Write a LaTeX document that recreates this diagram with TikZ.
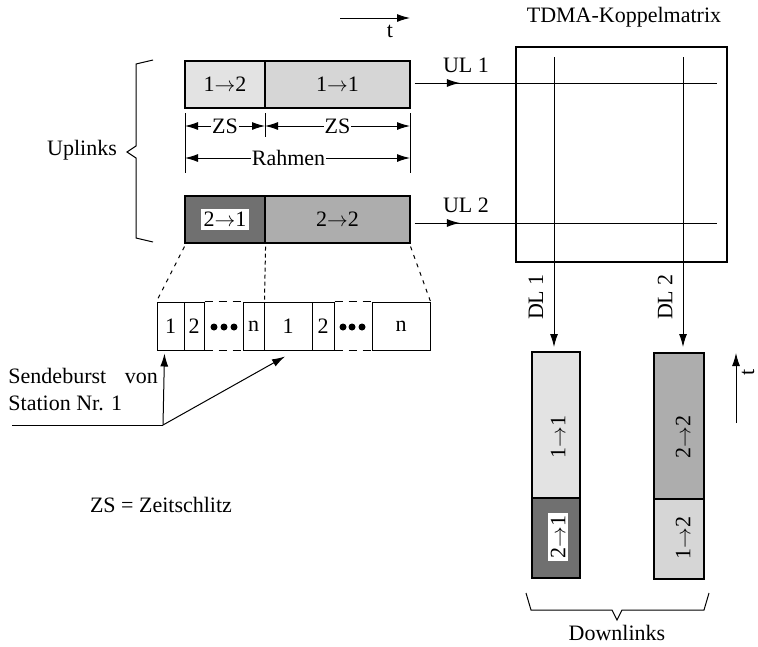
\documentclass[tikz,border=0pt]{standalone}
\usepackage{fontspec}
\setmainfont{Liberation Serif}
\usetikzlibrary{arrows.meta,decorations.markings}

\colorlet{lightfill}{black!11}
\colorlet{lightfillb}{black!16}
\colorlet{medfill}{black!32}
\colorlet{darkfill}{black!56}

\begin{document}
\begin{tikzpicture}[x=1pt,y=-1pt,
    font=\fontsize{22}{27}\selectfont,
    line width=1pt,
    >={Latex[length=13pt,width=8pt]},
    slot/.style={draw, line width=1.1pt, inner sep=0pt},
    cell/.style={draw, line width=1pt, inner sep=0pt, minimum height=48pt},
    whitelab/.style={fill=white, inner sep=1pt},
    midarrow/.style={postaction={decorate},
      decoration={markings, mark=at position #1 with {\arrow{Latex[length=13pt,width=8pt]}}}}]
    \useasboundingbox (0,0) rectangle (758,646);

    % time axis on top
    \coordinate (tA) at (340,18);
    \coordinate (tB) at (410,18);
    \draw[->] (tA) -- (tB);
    \node (tlab) at (390,31) {t};

    % Uplink frames
    \node[slot, fill=lightfill, minimum width=80pt, minimum height=47pt] (u12) at (225,84.5) {1$\rightarrow$2};
    \node[slot, fill=lightfillb, minimum width=145pt, minimum height=47pt] (u11) at (337.5,84.5) {1$\rightarrow$1};
    \node[slot, fill=darkfill, minimum width=80pt, minimum height=47pt] (u21) at (225,219.5) {\colorbox{white}{2$\rightarrow$1}};
    \node[slot, fill=medfill, minimum width=145pt, minimum height=47pt] (u22) at (337.5,219.5) {2$\rightarrow$2};

    % dimensions
    \draw (185,113) -- (185,173);
    \draw (265,113) -- (265,137);
    \draw (410,113) -- (410,173);
    \coordinate (zsA) at (185,126);
    \coordinate (zsB) at (265,126);
    \coordinate (zsC) at (410,126);
    \draw[<->] (zsA) -- node[whitelab] (zs1) {ZS} (zsB);
    \draw[<->] (zsB) -- node[whitelab] (zs2) {ZS} (zsC);
    \coordinate (raA) at (185,158);
    \coordinate (raB) at (410,158);
    \draw[<->] (raA) -- node[whitelab, pos=0.46] (rahmen) {Rahmen} (raB);

    % Uplinks brace
    \draw (153,60) -- (136,64) -- (136,146) -- (127,152) -- (136,158) -- (136,238) -- (153,242);
    \node (uplinks) at (82,150) {Uplinks};

    % Koppelmatrix
    \node[draw, line width=1.1pt, minimum width=211pt, minimum height=215pt] (kpm) at (621.5,154.5) {};
    \node (kpmtitle) at (624,17) {TDMA-Koppelmatrix};
    \coordinate (ul1end) at (717,83);
    \coordinate (ul2end) at (717,223);
    \draw[midarrow=0.15] ([xshift=4pt,yshift=1.5pt]u11.east) -- node[pos=0.17, above=6pt] (ul1) {UL 1} (ul1end);
    \draw[midarrow=0.15] ([xshift=4pt,yshift=-3.5pt]u22.east) -- node[pos=0.17, above=6pt] (ul2) {UL 2} (ul2end);

    % Downlink frames
    \node[slot, fill=lightfill, minimum width=48pt, minimum height=146pt] (d11) at (556,425) {};
    \node[slot, fill=darkfill, minimum width=48pt, minimum height=80pt] (d21) at (556,538) {};
    \node[slot, fill=medfill, minimum width=50pt, minimum height=146pt] (d22) at (679,426) {};
    \node[slot, fill=lightfillb, minimum width=50pt, minimum height=80pt] (d12) at (679,539) {};
    \node[rotate=90] (d11lab) at (558,437) {1$\rightarrow$1};
    \node[rotate=90] (d21lab) at (558,537) {\colorbox{white}{2$\rightarrow$1}};
    \node[rotate=90] (d22lab) at (683,437) {2$\rightarrow$2};
    \node[rotate=90] (d12lab) at (683,538) {1$\rightarrow$2};

    \coordinate (dl1top) at (554,57);
    \coordinate (dl2top) at (683,57);
    \draw[->] (dl1top) -- (554,347);
    \draw[->] (dl2top) -- (683,347);
    \node[rotate=90] (dl1) at (536,297) {DL 1};
    \node[rotate=90] (dl2) at (665,297) {DL 2};

    % time axis on the right
    \coordinate (tC) at (736,423);
    \coordinate (tD) at (736,353);
    \draw[->] (tC) -- (tD);
    \node[rotate=90] (tlab2) at (748,372) {t};

    % Downlinks brace
    \draw (526,593) -- (531,610) -- (612,610) -- (617,620) -- (622,610) -- (704,610) -- (709,593);
    \node (downlinks) at (617,633) {Downlinks};

    % Sendeburst row
    \node[cell, minimum width=27pt] (b1) at (170.5,326) {1};
    \node[cell, minimum width=20pt] (b2) at (194,326) {2};
    \node[cell, minimum width=21pt] (bn) at (253.5,326) {n};
    \node[cell, minimum width=48pt] (b1b) at (288,326) {1};
    \node[cell, minimum width=22pt] (b2b) at (323,326) {2};
    \node[cell, minimum width=58pt] (bnb) at (401,326) {n};
    \draw[dash pattern=on 8pt off 6pt] (b2.north east) -- (bn.north west);
    \draw[dash pattern=on 8pt off 6pt] (b2.south east) -- (bn.south west);
    \draw[dash pattern=on 8pt off 6pt] (b2b.north east) -- (bnb.north west);
    \draw[dash pattern=on 8pt off 6pt] (b2b.south east) -- (bnb.south west);
    \foreach \px in {214,224,234,343,352,362}
        \fill (\px,327) circle (3.5pt);

    % zoom lines
    \draw[dash pattern=on 4pt off 5pt] ([yshift=-3pt]u21.south west) -- (b1.north west);
    \draw[dash pattern=on 4pt off 3pt] ([yshift=-3pt]u21.south east) -- (bn.north east);
    \draw[dash pattern=on 4pt off 5pt] ([yshift=-3pt]u22.south east) -- (bnb.north east);

    % Sendeburst label
    \node[align=left, anchor=north west, inner sep=0pt] (sendtxt) at (8,368) {Sendeburst\hspace{0.6em} von\\Station Nr. 1};
    \coordinate (sendstart) at (12,425);
    \coordinate (sendknick) at (163,425);
    \draw (sendstart) -- (sendknick);
    \draw[->] (sendknick) -- ([xshift=-6pt,yshift=-3pt]b1.south);
    \draw[->] (sendknick) -- ([xshift=-3pt,yshift=-6pt]b1b.south);

    \node (zslegend) at (161,505) {ZS = Zeitschlitz};
\end{tikzpicture}
\end{document}
